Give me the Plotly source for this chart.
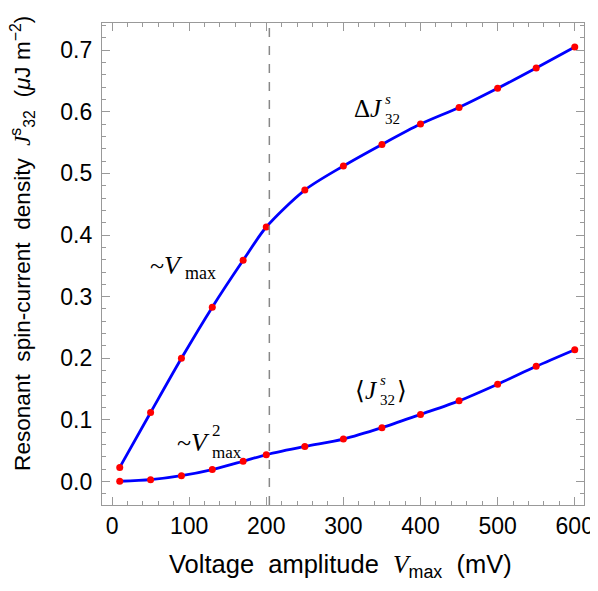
import plotly.graph_objects as go

x_vals = [10, 50, 90, 130, 170, 200, 250, 300, 350, 400, 450, 500, 550, 600]
delta_j = [0.023, 0.112, 0.200, 0.283, 0.359, 0.413, 0.473, 0.512, 0.547, 0.580, 0.607, 0.638, 0.671, 0.705]
mean_j = [0.0005, 0.003, 0.0095, 0.0195, 0.033, 0.0435, 0.057, 0.069, 0.0875, 0.109, 0.131, 0.158, 0.187, 0.214]
x_ticks = [0, 100, 200, 300, 400, 500, 600]
y_ticks = [0.0, 0.1, 0.2, 0.3, 0.4, 0.5, 0.6, 0.7]
y_tick_labels = ["0.0", "0.1", "0.2", "0.3", "0.4", "0.5", "0.6", "0.7"]
v_crossover = 204

fig = go.Figure()
for ys in (delta_j, mean_j):
    fig.add_trace(go.Scatter(x=x_vals, y=ys, mode="lines",
                             line=dict(color="#0000ff", width=2.8, shape="spline", smoothing=0.8),
                             hoverinfo="skip", showlegend=False))
for ys in (delta_j, mean_j):
    fig.add_trace(go.Scatter(x=x_vals, y=ys, mode="markers",
                             marker=dict(color="#ff0000", size=7),
                             showlegend=False))

fig.add_shape(type="line", x0=v_crossover, x1=v_crossover, y0=0, y1=1, xref="x", yref="paper",
              line=dict(color="#888888", width=1.5, dash="dash"))

SERIF = "Liberation Serif, Times New Roman, serif"
SANS = "Liberation Sans, Arial, Helvetica, sans-serif"


def stacked(x, y, base, sup, sub, after="", dy=-1, sub_w=16, size=25, small=15):
    big = dict(family=SERIF, size=size, color="black")
    sm = dict(family=SERIF, size=small, color="black")
    fig.add_annotation(x=x, y=y, text=base, showarrow=False, font=big, xanchor="right", yanchor="middle",
                       borderpad=0)
    txt = f"{sup}<br>{sub}" if sup else sub
    fig.add_annotation(x=x, y=y, text=txt, showarrow=False, font=sm, xanchor="left", yanchor="middle",
                       align="left", yshift=dy, xshift=0, borderpad=0)
    if after:
        fig.add_annotation(x=x, y=y, text=after, showarrow=False, font=big, xanchor="left", yanchor="middle",
                           xshift=sub_w, borderpad=0)


stacked(353, 0.606, "Δ<i>J</i>", "<i>s</i>", "32", dy=-1)
stacked(93, 0.350, "~<i>V</i>", "", "max", dy=-7, size=26, small=18)
stacked(128, 0.063, "~<i>V</i>", "2", "max", dy=1, size=26, small=17)
stacked(346, 0.147, "⟨<i>J</i>", "<i>s</i>", "32", after="⟩", dy=1, sub_w=17)

axis_common = dict(showgrid=False, zeroline=False, showline=True, linecolor="#999999", linewidth=1.2,
                   mirror="ticks", ticks="inside", ticklen=8, tickcolor="#999999", tickwidth=1,
                   automargin=False,
                   tickfont=dict(family=SANS, size=23, color="black"))

NB = "\u00a0" * 2
SI = '<span style="font-family:Liberation Serif, Times New Roman, serif"><i>{}</i></span>'
fig.add_annotation(xref="paper", yref="paper", x=0.494, y=-0.1266,
                   text=f"Voltage{NB}amplitude{NB}{SI.format('V')}<sub>max</sub>{NB}(mV)",
                   showarrow=False, font=dict(family=SANS, size=25.5, color="black"),
                   xanchor="center", yanchor="middle")
fig.add_annotation(xref="paper", yref="paper", x=-0.164, y=0.5436, textangle=-90,
                   text=(f"Resonant{NB}spin-current{NB}density{NB}"
                         f"{SI.format('J')}<sup>s</sup><sub>32</sub>{NB}(<i>μ</i>J m<sup>−2</sup>)"),
                   showarrow=False, font=dict(family=SANS, size=22.6, color="black"),
                   xanchor="center", yanchor="middle")

fig.update_layout(
    width=590, height=583,
    margin=dict(l=94, r=14, t=15, b=86),
    plot_bgcolor="white", paper_bgcolor="white",
    xaxis=dict(range=[-13, 612], tickvals=x_ticks, **axis_common,
               minor=dict(dtick=20, tick0=0, ticks="inside", ticklen=4, tickcolor="#999999")),
    yaxis=dict(range=[-0.038, 0.744], tickvals=y_ticks, ticktext=y_tick_labels, **axis_common,
               ticklabelstandoff=4,
               minor=dict(dtick=0.02, tick0=0, ticks="inside", ticklen=4, tickcolor="#999999")),
)

fig.write_html("out.html")
